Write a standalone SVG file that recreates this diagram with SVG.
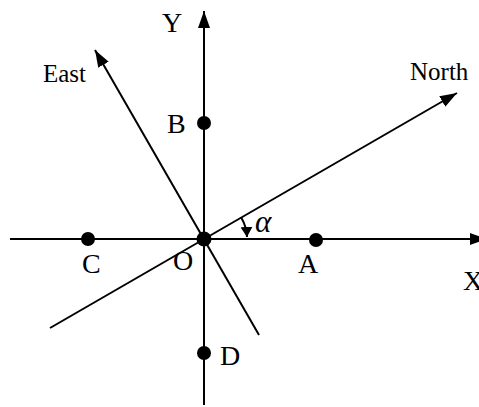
<svg xmlns="http://www.w3.org/2000/svg" width="479" height="407" viewBox="0 0 479 407">
<style>
.ln{stroke:#000;stroke-width:2;fill:none}
.lb{font-family:"Liberation Serif","Times New Roman",serif;font-size:28px;fill:#000}
.sm{font-size:25px}
.al{font-size:31px;font-style:italic}
.dot{fill:#000}
</style>
<defs>
<marker id="ah" markerUnits="userSpaceOnUse" markerWidth="18" markerHeight="14" refX="17" refY="6.5" orient="auto" viewBox="0 0 18 14">
<path d="M0,0.5 L17,6.5 L0,12.5 z" fill="#000"/>
</marker>
<marker id="sh" markerUnits="userSpaceOnUse" markerWidth="13" markerHeight="12" refX="10" refY="6" orient="auto" viewBox="0 0 13 12">
<path d="M0,0 L10,6 L0,12 z" fill="#000"/>
</marker>
</defs>
<g id="connectors">
<line id="x-axis" class="ln" x1="10" y1="239" x2="487" y2="239" marker-end="url(#ah)"/>
<line id="y-axis" class="ln" x1="204" y1="405" x2="204" y2="11" marker-end="url(#ah)"/>
<line id="north-line" class="ln" x1="50" y1="328" x2="457" y2="93" marker-end="url(#ah)"/>
<line id="east-line" class="ln" x1="259" y1="335" x2="95" y2="50" marker-end="url(#ah)"/>
<path id="alpha-arc" class="ln" stroke-width="1.5" d="M241.2,217.5 A43,43 0 0 1 247,237" marker-end="url(#sh)"/>
</g>
<g id="node-O"><circle class="dot" cx="204" cy="239" r="7.5"/><text class="lb" x="173" y="270">O</text></g>
<g id="node-A"><circle class="dot" cx="316" cy="240" r="7"/><text class="lb" x="298" y="273">A</text></g>
<g id="node-B"><circle class="dot" cx="204" cy="123" r="7"/><text class="lb" x="167" y="133">B</text></g>
<g id="node-C"><circle class="dot" cx="88" cy="239" r="7"/><text class="lb" x="82" y="273">C</text></g>
<g id="node-D"><circle class="dot" cx="204" cy="353" r="7"/><text class="lb" x="220" y="365">D</text></g>
<g id="label-X"><text class="lb" x="463" y="290">X</text></g>
<g id="label-Y"><text class="lb" x="162" y="32">Y</text></g>
<g id="label-North"><text class="lb sm" x="410" y="80">North</text></g>
<g id="label-East"><text class="lb sm" x="43" y="82">East</text></g>
<g id="label-alpha"><text class="lb al" x="255" y="232">α</text></g>
</svg>
